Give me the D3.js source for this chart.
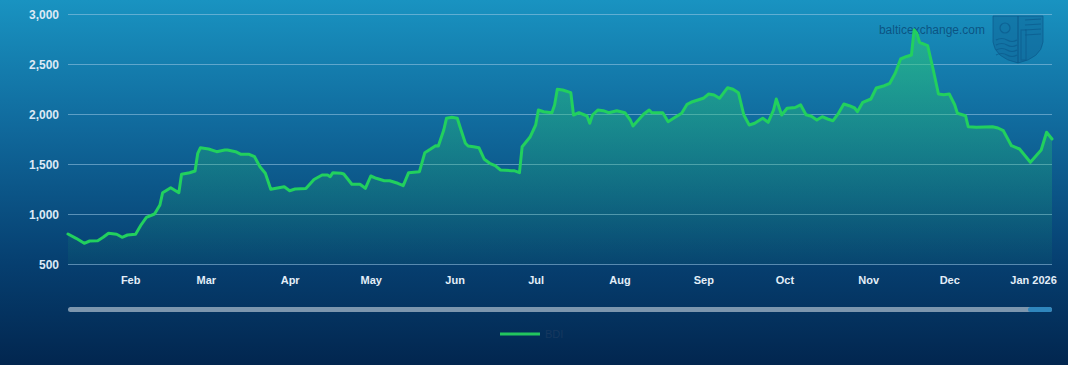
<!DOCTYPE html>
<html>
<head>
<meta charset="utf-8">
<script src="https://cdn.jsdelivr.net/npm/d3@7/dist/d3.min.js"></script>
<style>
  html, body { margin: 0; padding: 0; background: #03284f; }
  svg { display: block; }
</style>
</head>
<body>
<svg id="chart" width="1068" height="365"></svg>
<script>
// ---------- DATA ----------
const seriesName = "BDI";
const dates = [
  "2025-01-09","2025-01-12","2025-01-15","2025-01-17","2025-01-20","2025-01-22","2025-01-24","2025-01-27","2025-01-29","2025-01-31",
  "2025-02-03","2025-02-05","2025-02-07","2025-02-10","2025-02-12","2025-02-13","2025-02-16","2025-02-19","2025-02-20","2025-02-23",
  "2025-02-25","2025-02-26","2025-02-27","2025-03-02","2025-03-05","2025-03-08","2025-03-09","2025-03-12","2025-03-14","2025-03-17",
  "2025-03-19","2025-03-21","2025-03-23","2025-03-25","2025-03-28","2025-03-30","2025-04-01","2025-04-03","2025-04-07","2025-04-10",
  "2025-04-13","2025-04-15","2025-04-16","2025-04-17","2025-04-20","2025-04-21","2025-04-24","2025-04-27","2025-04-29","2025-05-01",
  "2025-05-03","2025-05-06","2025-05-08","2025-05-11","2025-05-13","2025-05-15","2025-05-19","2025-05-21","2025-05-23","2025-05-25",
  "2025-05-26","2025-05-28","2025-05-29","2025-05-31","2025-06-02","2025-06-03","2025-06-05","2025-06-06","2025-06-08","2025-06-10",
  "2025-06-12","2025-06-14","2025-06-16","2025-06-18","2025-06-22","2025-06-23","2025-06-25","2025-06-26","2025-06-29","2025-07-01",
  "2025-07-02","2025-07-04","2025-07-07","2025-07-08","2025-07-09","2025-07-11","2025-07-14","2025-07-15","2025-07-17","2025-07-20",
  "2025-07-21","2025-07-22","2025-07-24","2025-07-26","2025-07-28","2025-07-31","2025-08-03","2025-08-05","2025-08-06","2025-08-08",
  "2025-08-10","2025-08-12","2025-08-13","2025-08-17","2025-08-19","2025-08-21","2025-08-24","2025-08-26","2025-08-28","2025-09-01",
  "2025-09-03","2025-09-05","2025-09-07","2025-09-10","2025-09-12","2025-09-14","2025-09-16","2025-09-18","2025-09-20","2025-09-23",
  "2025-09-25","2025-09-27","2025-09-28","2025-09-30","2025-10-02","2025-10-05","2025-10-07","2025-10-09","2025-10-11","2025-10-13",
  "2025-10-15","2025-10-17","2025-10-19","2025-10-21","2025-10-23","2025-10-25","2025-10-27","2025-10-28","2025-10-30","2025-11-02",
  "2025-11-04","2025-11-07","2025-11-09","2025-11-11","2025-11-13","2025-11-15","2025-11-17","2025-11-18","2025-11-19","2025-11-20",
  "2025-11-23","2025-11-25","2025-11-27","2025-11-29","2025-12-01","2025-12-03","2025-12-04","2025-12-07","2025-12-08","2025-12-11",
  "2025-12-17","2025-12-19","2025-12-21","2025-12-24","2025-12-27","2025-12-31","2026-01-04","2026-01-06","2026-01-08"
];
const values = [
  800,757,707,730,733,767,807,797,767,790,
  797,890,967,1000,1090,1213,1263,1213,1397,1413,
  1430,1607,1663,1650,1623,1640,1640,1623,1597,1597,
  1573,1473,1407,1247,1263,1273,1233,1250,1255,1345,
  1390,1390,1373,1413,1407,1400,1297,1297,1257,1380,
  1357,1333,1333,1307,1283,1413,1423,1613,1647,1683,
  1680,1840,1957,1967,1957,1873,1707,1680,1673,1663,
  1547,1507,1483,1440,1433,1433,1413,1673,1773,1890,
  2040,2023,2013,2090,2247,2240,2213,1990,2013,1980,
  1907,1990,2040,2033,2013,2033,2013,1940,1880,1940,
  2000,2040,2013,2013,1923,1957,2007,2097,2123,2157,
  2200,2190,2157,2263,2247,2213,1990,1890,1907,1957,
  1917,2040,2150,1990,2057,2065,2092,1993,1977,1940,
  1973,1950,1933,2007,2100,2083,2060,2023,2117,2150,
  2260,2283,2307,2407,2550,2573,2590,2840,2807,2717,
  2683,2450,2200,2193,2200,2093,2007,1983,1873,1867,
  1873,1860,1833,1683,1650,1517,1640,1817,1750
];
const yTicks = [500, 1000, 1500, 2000, 2500, 3000];
const xTickLabels = [
  ["2025-02-01","Feb"],["2025-03-01","Mar"],["2025-04-01","Apr"],["2025-05-01","May"],
  ["2025-06-01","Jun"],["2025-07-01","Jul"],["2025-08-01","Aug"],["2025-09-01","Sep"],
  ["2025-10-01","Oct"],["2025-11-01","Nov"],["2025-12-01","Dec"],["2026-01-01","Jan 2026"]
];
const watermarkText = "balticexchange.com";

// ---------- CHART ----------
const W = 1068, H = 365;
const plot = { left: 68, right: 1052, top: 14, bottom: 264 };
const parse = d3.utcParse("%Y-%m-%d");
const data = dates.map((d, i) => ({ date: parse(d), value: values[i] }));

const svg = d3.select("#chart");
const defs = svg.append("defs");

const bg = defs.append("linearGradient").attr("id", "bg").attr("x1", 0).attr("y1", 0).attr("x2", 0).attr("y2", 1);
bg.append("stop").attr("offset", "0%").attr("stop-color", "#1993c1");
bg.append("stop").attr("offset", "35%").attr("stop-color", "#10699c");
bg.append("stop").attr("offset", "72%").attr("stop-color", "#063f70");
bg.append("stop").attr("offset", "100%").attr("stop-color", "#02264f");

const ag = defs.append("linearGradient").attr("id", "areaGrad")
  .attr("gradientUnits", "userSpaceOnUse")
  .attr("x1", 0).attr("y1", plot.top).attr("x2", 0).attr("y2", plot.bottom);
ag.append("stop").attr("offset", "0%").attr("stop-color", "#2fd275").attr("stop-opacity", 0.6);
ag.append("stop").attr("offset", "100%").attr("stop-color", "#1fb070").attr("stop-opacity", 0.06);

svg.append("rect").attr("width", W).attr("height", H).attr("fill", "url(#bg)");

const x = d3.scaleUtc()
  .domain([parse("2025-01-09"), parse("2026-01-08")])
  .range([plot.left, plot.right]);
const y = d3.scaleLinear().domain([500, 3000]).range([plot.bottom, plot.top]);

// watermark (behind the series)
const wm = svg.append("g").attr("class", "watermark");
wm.append("text")
  .attr("x", 985).attr("y", 34).attr("text-anchor", "end")
  .attr("font-family", "'Liberation Sans', Arial, sans-serif")
  .attr("font-size", 12).attr("fill", "#0a4a78").attr("fill-opacity", 0.85)
  .text(watermarkText);
const shield = wm.append("g").attr("fill", "none").attr("stroke", "#0c5a8c").attr("stroke-opacity", 0.7);
shield.append("path")
  .attr("d", "M993,16 L1043,16 L1043,42 Q1041,58 1018,63 Q995,58 993,42 Z")
  .attr("fill", "#0d5f93").attr("fill-opacity", 0.45).attr("stroke-width", 1);
shield.append("line").attr("x1", 1018).attr("y1", 16).attr("x2", 1018).attr("y2", 63).attr("stroke-width", 1.5);
[40, 45, 50, 55].forEach(v => {
  shield.append("path").attr("d", `M996,${v} Q1002,${v-3} 1007,${v} T1017,${v}`).attr("stroke-width", 1.2);
});
shield.append("circle").attr("cx", 1005).attr("cy", 28).attr("r", 5).attr("stroke-width", 1.2);
[20, 25, 30, 35].forEach(v => {
  shield.append("line").attr("x1", 1025).attr("y1", v).attr("x2", 1041).attr("y2", v - 1).attr("stroke-width", 1.2);
});
shield.append("rect").attr("x", 1021).attr("y", 30).attr("width", 5).attr("height", 30).attr("stroke-width", 1);

// gridlines
const grid = svg.append("g")
  .attr("transform", `translate(${plot.left},0)`)
  .call(d3.axisLeft(y).tickValues(yTicks).tickSize(-(plot.right - plot.left)).tickFormat(""));
grid.select(".domain").remove();
grid.selectAll("line").attr("stroke", "#9cc9e6").attr("stroke-opacity", 0.55).attr("stroke-width", 1);

// area + line
const area = d3.area().x(d => x(d.date)).y0(y(500)).y1(d => y(d.value)).curve(d3.curveLinear);
const line = d3.line().x(d => x(d.date)).y(d => y(d.value)).curve(d3.curveLinear);
svg.append("path").datum(data).attr("d", area).attr("fill", "url(#areaGrad)");
svg.append("path").datum(data).attr("d", line)
  .attr("fill", "none").attr("stroke", "#22d05e").attr("stroke-width", 3)
  .attr("stroke-linejoin", "round").attr("stroke-linecap", "round");

// y axis labels
const yAxis = svg.append("g")
  .attr("transform", `translate(${plot.left - 9},0)`)
  .call(d3.axisLeft(y).tickValues(yTicks).tickSize(0).tickPadding(0).tickFormat(d3.format(",")));
yAxis.select(".domain").remove();
yAxis.selectAll("text")
  .attr("font-family", "'Liberation Sans', Arial, sans-serif")
  .attr("font-size", 12).attr("font-weight", "bold").attr("fill", "#dce9f5")
  .attr("dy", "0.36em");

// x axis labels
const xAxis = svg.append("g")
  .attr("transform", `translate(0,${plot.bottom})`)
  .call(d3.axisBottom(x)
    .tickValues(xTickLabels.map(t => parse(t[0])))
    .tickSize(0).tickPadding(0)
    .tickFormat((d, i) => xTickLabels[i][1]));
xAxis.select(".domain").remove();
xAxis.selectAll("text")
  .attr("font-family", "'Liberation Sans', Arial, sans-serif")
  .attr("font-size", 11).attr("font-weight", "bold").attr("fill", "#e3eef8")
  .attr("y", 20).attr("dy", 0);

// navigator scrollbar
svg.append("rect").attr("x", plot.left).attr("y", 307).attr("width", plot.right - plot.left).attr("height", 5)
  .attr("rx", 2.5).attr("fill", "#7c96ae");
svg.append("rect").attr("x", plot.right - 24).attr("y", 307).attr("width", 24).attr("height", 5)
  .attr("rx", 2.5).attr("fill", "#2f86bd");

// legend
const lg = svg.append("g");
lg.append("line").attr("x1", 500).attr("x2", 540).attr("y1", 334).attr("y2", 334)
  .attr("stroke", "#22c55e").attr("stroke-width", 3);
lg.append("text").attr("x", 545).attr("y", 338)
  .attr("font-family", "'Liberation Sans Narrow', 'Liberation Sans', Arial, sans-serif")
  .attr("font-size", 11).attr("fill", "#16385f")
  .text(seriesName);
</script>
</body>
</html>
